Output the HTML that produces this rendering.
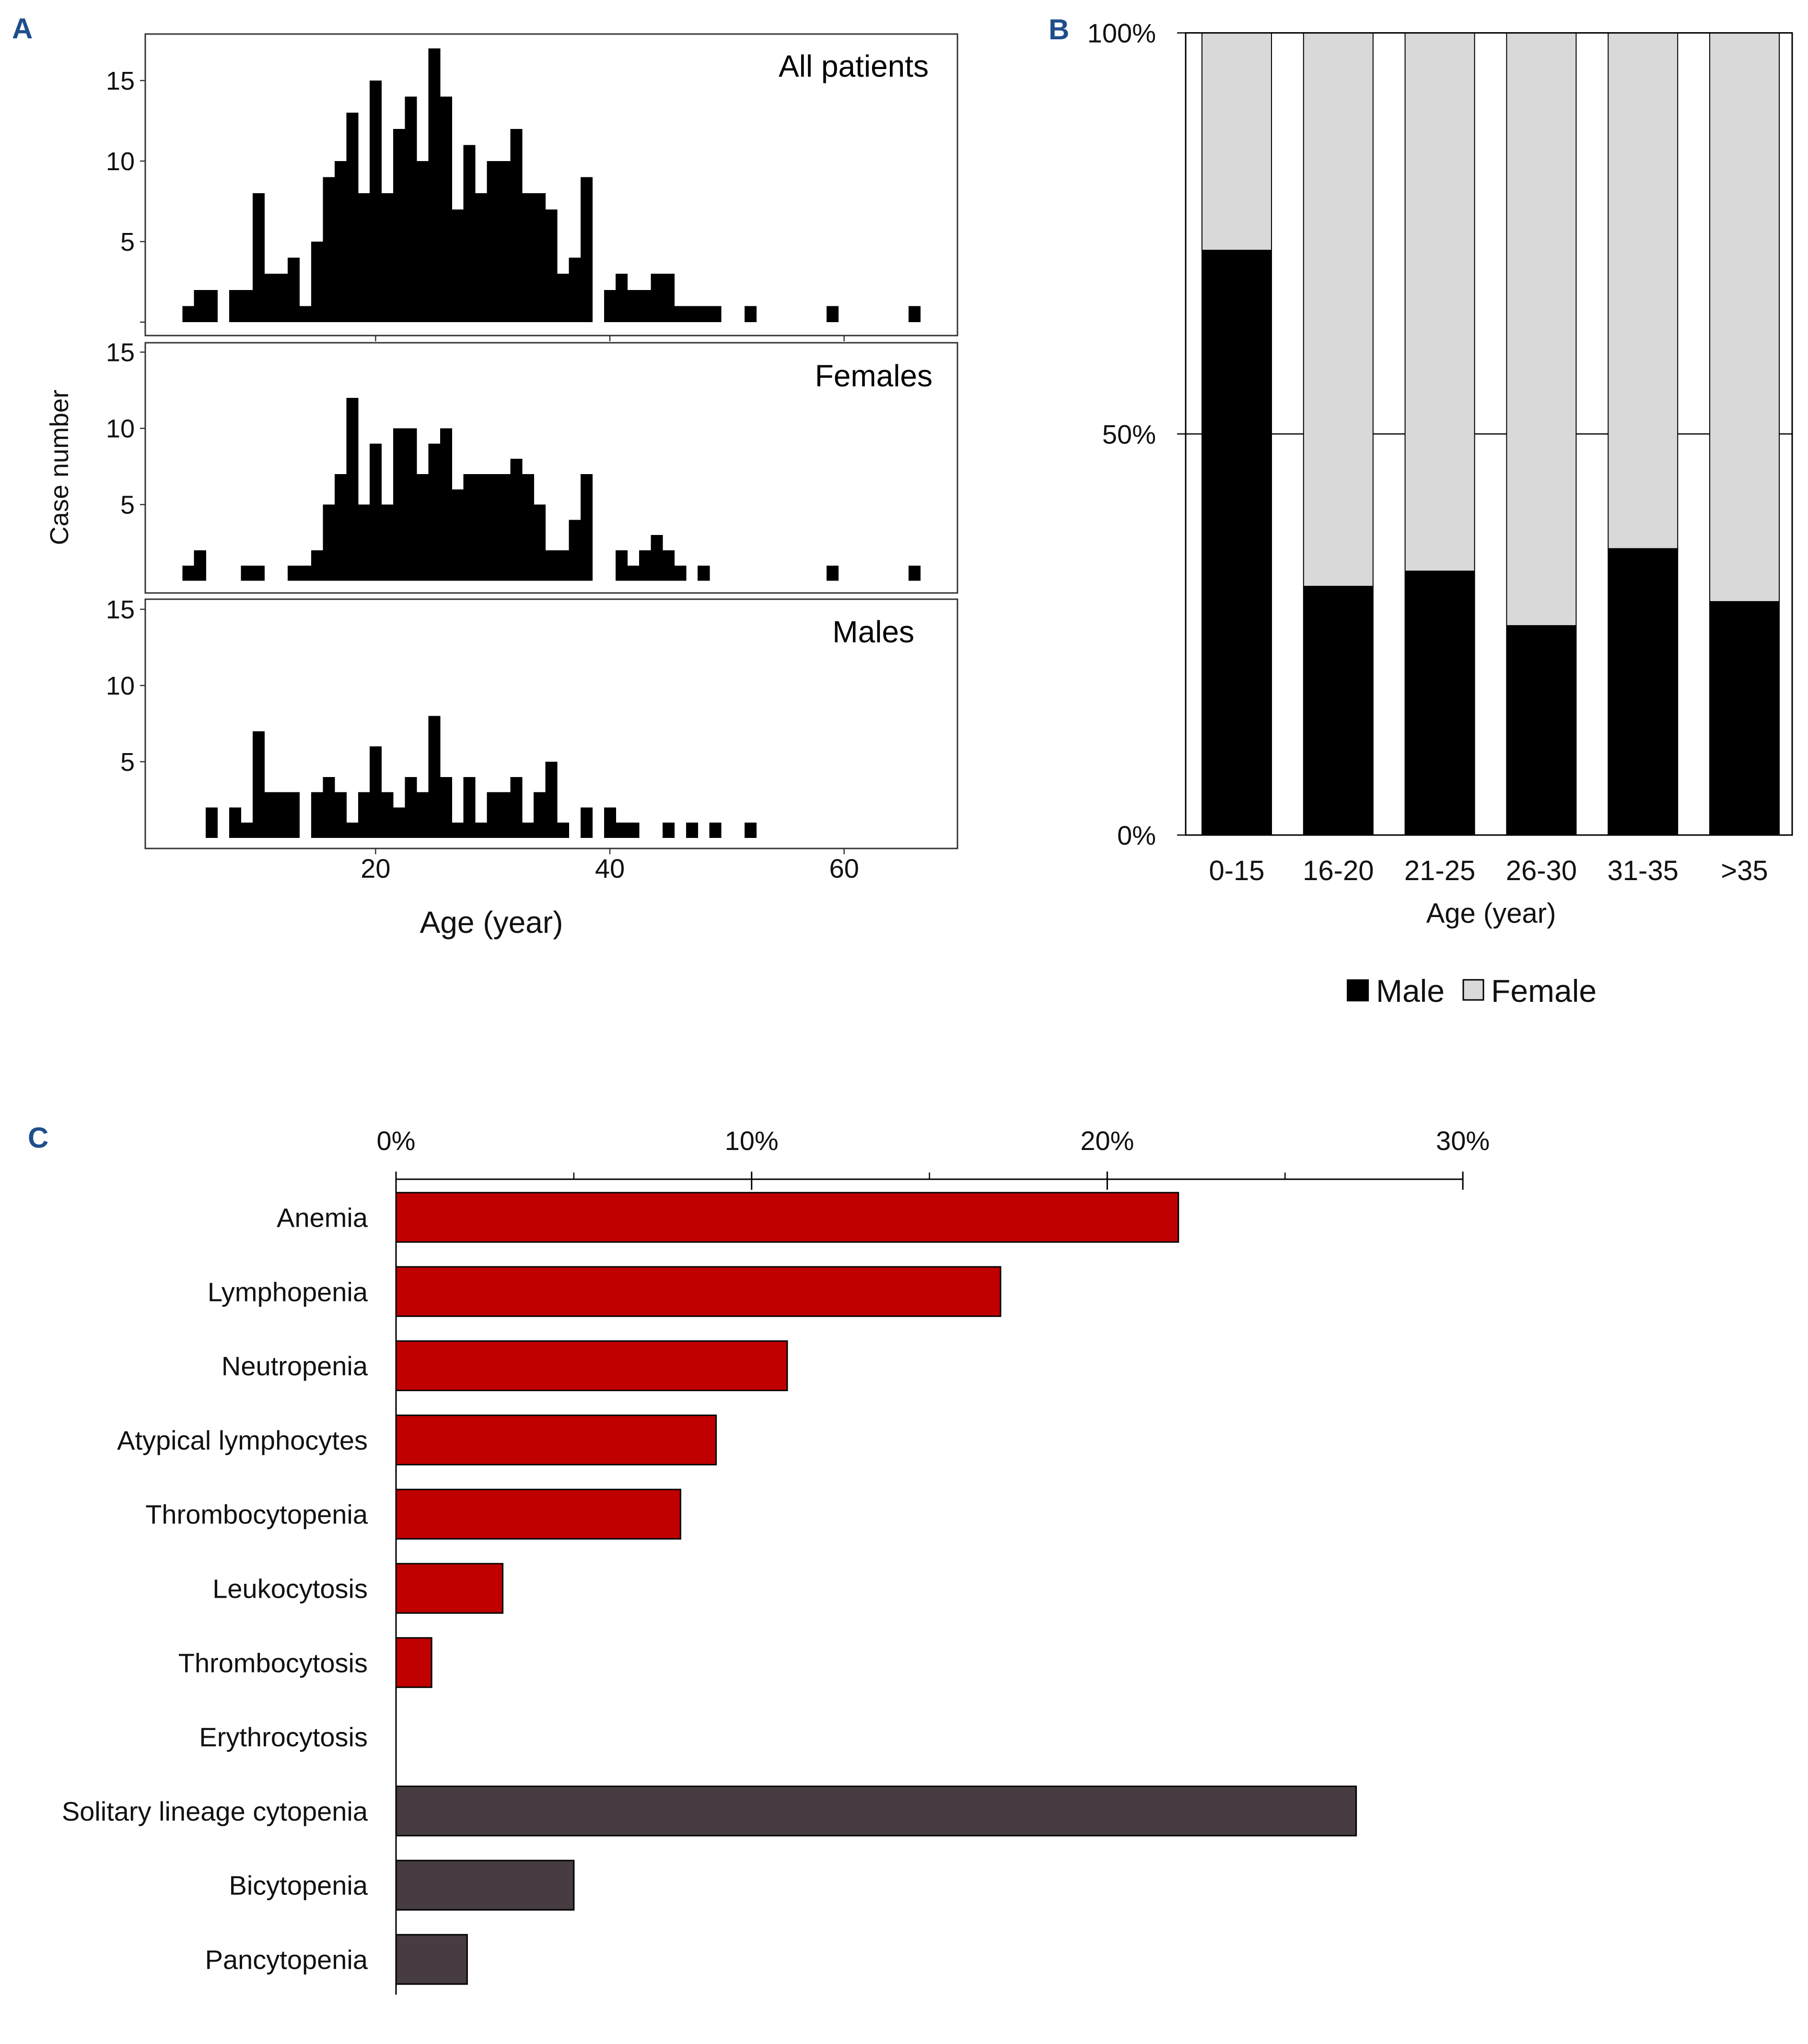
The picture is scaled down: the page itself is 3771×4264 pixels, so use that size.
<!DOCTYPE html>
<html><head><meta charset="utf-8"><style>
html,body{margin:0;padding:0;background:#fff;}
svg{display:block;}
text{font-family:"Liberation Sans",sans-serif;}
</style></head><body>
<svg id="fig" width="3771" height="4264" viewBox="0 0 3771 4264" xmlns="http://www.w3.org/2000/svg">
<g id="panelA"></g>
<g id="panelB"></g>
<g id="panelC"></g>
<text x="25" y="80" font-size="60" font-weight="bold" fill="#1f4e8c">A</text>
<text x="2187" y="82" font-size="60" font-weight="bold" fill="#1f4e8c">B</text>
<text x="58" y="2394" font-size="60" font-weight="bold" fill="#1f4e8c">C</text>
</svg>
<script>
// ---------- Panel A data ----------
const ageStart = 4;
const allCounts = [1,2,2,0,2,2,8,3,3,4, 1,5,9,10,13,8,15,8,12,14, 10,17,14,7,11,8,10,10,12,8, 8,7,3,4,9,0,2,3,2,2, 3,3,1,1,1,1,0,0,1,0, 0,0,0,0,0,1,0,0,0,0, 0,0,1];
const femaleCounts = [1,2,0,0,0,1,1,0,0,1, 1,2,5,7,12,5,9,5,10,10, 7,9,10,6,7,7,7,7,8,7, 5,2,2,4,7,0,0,2,1,2, 3,2,1,0,1,0,0,0,0,0, 0,0,0,0,0,1,0,0,0,0, 0,0,1];
const maleCounts = [0,0,2,0,2,1,7,3,3,3, 0,3,4,3,1,3,6,3,2,4, 3,8,4,1,4,1,3,3,4,1, 3,5,1,0,2,0,2,1,1,0, 0,1,0,1,0,1,0,0,1,0, 0,0,0,0,0,0,0,0,0,0, 0,0,0];
const panelTitles = ["All patients","Females","Males"];
const yTickValsA = [5,10,15];
const xTickValsA = [20,40,60];

// ---------- Panel B data ----------
const ageGroups = ["0-15","16-20","21-25","26-30","31-35",">35"];
const malePct = [72.9,31.0,32.9,26.1,35.7,29.1];
const yTickValsB = [0,50,100];

// ---------- Panel C data ----------
const cCategories = ["Anemia","Lymphopenia","Neutropenia","Atypical lymphocytes","Thrombocytopenia","Leukocytosis","Thrombocytosis","Erythrocytosis","Solitary lineage cytopenia","Bicytopenia","Pancytopenia"];
const cValues = [22,17,11,9,8,3,1,0,27,5,2];
const cGroup = ["r","r","r","r","r","r","r","r","d","d","d"];
const xTickValsC = [0,10,20,30];

const NS = "http://www.w3.org/2000/svg";
function mk(tag, attrs, parent, txt){
  const e = document.createElementNS(NS, tag);
  for (const k in attrs) e.setAttribute(k, attrs[k]);
  if (txt !== undefined) e.textContent = txt;
  parent.appendChild(e);
  return e;
}

// ---------- Panel A ----------
(function(){
  const g = document.getElementById("panelA");
  const xA = a => 783.4 + (a - 20) * 24.43;
  const L = 303, R = 1997;
  const panels = [
    {data: allCounts, top: 71, bottom: 700, base: 672, unit: 33.6, ticks0: true, xticks: true, ty: 138, tr: 1937},
    {data: femaleCounts, top: 715, bottom: 1237, base: 1211.6, unit: 31.8, ticks0: false, xticks: false, ty: 784, tr: 1945},
    {data: maleCounts, top: 1250, bottom: 1770, base: 1748, unit: 31.8, ticks0: false, xticks: true, ty: 1318, tr: 1907}
  ];
  panels.forEach((p, pi) => {
    const pg = mk("g", {}, g);
    
    
    const yv = v => p.base - v * p.unit;
    p.data.forEach((c, i) => {
      if (c <= 0) return;
      const a = ageStart + i;
      const r = mk("rect", {x: xA(a - 0.5), y: yv(c), width: xA(a + 0.5) - xA(a - 0.5) + 0.6, height: p.base - yv(c), fill: "#000", "shape-rendering": "crispEdges"}, pg);
      
      
    });
    const box = mk("rect", {x: L, y: p.top, width: R - L, height: p.bottom - p.top, fill: "none", stroke: "#333", "stroke-width": 3}, pg);
    
    
    const tv = p.ticks0 ? [0].concat(yTickValsA) : yTickValsA;
    tv.forEach(v => {
      mk("line", {x1: L - 11, x2: L, y1: yv(v), y2: yv(v), stroke: "#333", "stroke-width": 2.5}, pg);
      if (v > 0) {
        const t = mk("text", {x: 281, y: yv(v) + 19, "font-size": 54, "text-anchor": "end", fill: "#111"}, pg, String(v));
        
        
      }
    });
    if (p.xticks) {
      xTickValsA.forEach(v => {
        mk("line", {x1: xA(v), x2: xA(v), y1: p.bottom, y2: p.bottom + 12, stroke: "#333", "stroke-width": 2.5}, pg);
      });
    }
    const tt = mk("text", {x: p.tr, y: p.ty + 22, "font-size": 64, "text-anchor": "end", fill: "#000"}, pg, panelTitles[pi]);
    
    
  });
  xTickValsA.forEach(v => {
    const t = mk("text", {x: xA(v), y: 1831, "font-size": 56, "text-anchor": "middle", fill: "#111"}, g, String(v));
    
    
  });
  const xt = mk("text", {x: 1025, y: 1946, "font-size": 64, "text-anchor": "middle", fill: "#111"}, g, "Age (year)");
  
  
  const yt = mk("text", {x: 0, y: 0, "font-size": 54, "text-anchor": "middle", fill: "#111", transform: "translate(142,975) rotate(-90)"}, g, "Case number");
  
  
})();

// ---------- Panel B ----------
(function(){
  const g = document.getElementById("panelB");
  const L = 2473, R = 3738, T = 68.6, B = 1742;
  const yv = p => B - p / 100 * (B - T);
  const barX = i => 2507 + i * 211.8;
  const bw = 145;
  mk("rect", {x: L, y: T, width: R - L, height: B - T, fill: "#fff", stroke: "none"}, g);
  mk("line", {x1: L, x2: R, y1: yv(50), y2: yv(50), stroke: "#000", "stroke-width": 2.5}, g);
  ageGroups.forEach((grp, i) => {
    const x = barX(i);
    const f = mk("rect", {x: x, y: yv(100), width: bw, height: yv(malePct[i]) - yv(100), fill: "#d9d9d9", stroke: "#000", "stroke-width": 2}, g);
    
    
    const m = mk("rect", {x: x, y: yv(malePct[i]), width: bw, height: B - yv(malePct[i]), fill: "#000", stroke: "#000", "stroke-width": 2}, g);
    
    
    const t = mk("text", {x: x + bw / 2, y: 1836, "font-size": 58, "text-anchor": "middle", fill: "#111"}, g, grp);
    
    
  });
  const fr = mk("rect", {x: L, y: T, width: R - L, height: B - T, fill: "none", stroke: "#000", "stroke-width": 3}, g);
  
  
  yTickValsB.forEach(v => {
    mk("line", {x1: 2455, x2: L, y1: yv(v), y2: yv(v), stroke: "#000", "stroke-width": 2.5}, g);
    const t = mk("text", {x: 2411, y: yv(v) + 20, "font-size": 56, "text-anchor": "end", fill: "#111"}, g, v + "%");
    
    
  });
  const xt = mk("text", {x: 3110, y: 1925, "font-size": 58, "text-anchor": "middle", fill: "#111"}, g, "Age (year)");
  
  
  const lg = mk("g", {}, g);
  
  
  const s1 = mk("rect", {x: 2810, y: 2044, width: 44, height: 44, fill: "#000", stroke: "#000", "stroke-width": 2}, lg);
  
  
  const t1 = mk("text", {x: 2870, y: 2090, "font-size": 66, fill: "#111"}, lg, "Male");
  
  
  const s2 = mk("rect", {x: 3052, y: 2044, width: 42, height: 42, fill: "#d9d9d9", stroke: "#000", "stroke-width": 3}, lg);
  
  
  const t2 = mk("text", {x: 3110, y: 2090, "font-size": 66, fill: "#111"}, lg, "Female");
  
  
})();

// ---------- Panel C ----------
(function(){
  const g = document.getElementById("panelC");
  const x0 = 826, per = 74.17, axY = 2460;
  const xv = v => x0 + v * per;
  const bandY = i => 2488 + i * 154.8;
  const bh = 103;
  mk("line", {x1: x0, x2: xv(30), y1: axY, y2: axY, stroke: "#000", "stroke-width": 3}, g);
  mk("line", {x1: x0, x2: x0, y1: 2444, y2: 4161, stroke: "#000", "stroke-width": 3}, g);
  [5,15,25].forEach(v => mk("line", {x1: xv(v), x2: xv(v), y1: 2446, y2: axY, stroke: "#000", "stroke-width": 2.5}, g));
  xTickValsC.forEach(v => {
    mk("line", {x1: xv(v), x2: xv(v), y1: 2444, y2: 2482, stroke: "#000", "stroke-width": 3}, g);
    const t = mk("text", {x: xv(v), y: 2399, "font-size": 56, "text-anchor": "middle", fill: "#111"}, g, v + "%");
    
    
  });
  cCategories.forEach((c, i) => {
    const y = bandY(i);
    if (cValues[i] > 0) {
      const r = mk("rect", {x: x0, y: y, width: xv(cValues[i]) - x0, height: bh, fill: cGroup[i] === "r" ? "#c00000" : "#463c42", stroke: "#000", "stroke-width": 3}, g);
      
      
    }
    const t = mk("text", {x: 767, y: y + bh / 2 + 20, "font-size": 56, "text-anchor": "end", fill: "#111"}, g, c);
    
    
  });
})();
</script>
</body></html>
